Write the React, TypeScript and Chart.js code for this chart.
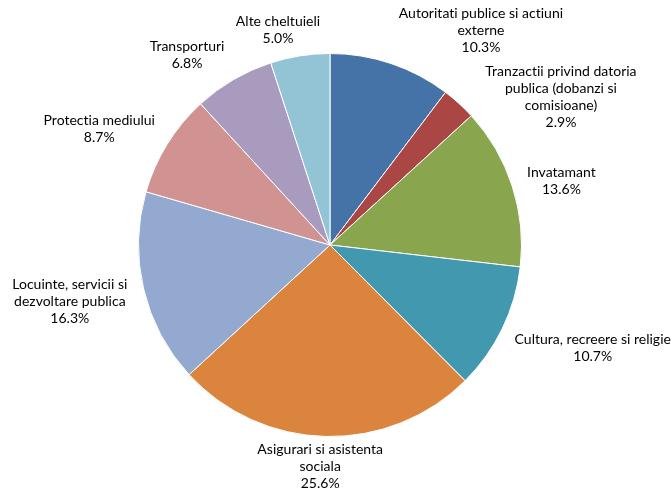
import React, { useEffect, useRef } from "react";
import { Chart, registerables } from "chart.js";

Chart.register(...registerables);

const categories: string[] = [
  "Autoritati publice si actiuni\nexterne",
  "Tranzactii privind datoria\npublica (dobanzi si\ncomisioane)",
  "Invatamant",
  "Cultura, recreere si religie",
  "Asigurari si asistenta\nsociala",
  "Locuinte, servicii si\ndezvoltare publica",
  "Protectia mediului",
  "Transporturi",
  "Alte cheltuieli",
];

const shares: number[] = [10.3, 2.9, 13.6, 10.7, 25.6, 16.3, 8.7, 6.8, 5.0];

const sliceColors: string[] = [
  "#4572A7",
  "#AA4643",
  "#89A54E",
  "#4198AF",
  "#DB843D",
  "#93A9CF",
  "#D19392",
  "#A99BBD",
  "#92C4D6",
];

// Excel-like "best fit" nudges of the outside labels (pixels)
const labelNudges: [number, number][] = [
  [61, 0],
  [45, 25],
  [8, 3],
  [12, 8],
  [-4, -4],
  [-9, 5],
  [-13, -1],
  [-23, -2],
  [-14, 0],
];

const FONT = "14px Lato";
const LINE_H = 17;
const GAP = 9;

const outsideLabels = {
  id: "outsideLabels",
  afterDatasetsDraw(chart: any) {
    const ctx = chart.ctx;
    const meta = chart.getDatasetMeta(0);
    ctx.save();
    ctx.font = FONT;
    try {
      (ctx as any).letterSpacing = "0.01px";
    } catch (e) {}
    ctx.fillStyle = "#000000";
    ctx.textAlign = "center";
    ctx.textBaseline = "middle";
    meta.data.forEach((arc: any, i: number) => {
      const p = arc.getProps(["x", "y", "startAngle", "endAngle", "outerRadius"], true);
      const mid = (p.startAngle + p.endAngle) / 2;
      const dx = Math.cos(mid);
      const dy = Math.sin(mid);
      const lines = categories[i].split("\n").concat([shares[i].toFixed(1) + "%"]);
      const w = Math.max(...lines.map((l) => ctx.measureText(l).width));
      const h = lines.length * LINE_H;
      const ax = p.x + (p.outerRadius + GAP) * dx;
      const ay = p.y + (p.outerRadius + GAP) * dy;
      const cx = ax + (dx * w) / 2 + labelNudges[i][0];
      const cy = ay + (dy * h) / 2 + labelNudges[i][1];
      const top = cy - h / 2;
      lines.forEach((l, k) => {
        ctx.fillText(l, cx, top + LINE_H * (k + 0.5));
      });
    });
    ctx.restore();
  },
};

export default function App() {
  const ref = useRef<HTMLCanvasElement | null>(null);
  useEffect(() => {
    if (!ref.current) return;
    const chart = new Chart(ref.current, {
      type: "pie",
      data: {
        labels: categories,
        datasets: [
          {
            data: shares,
            backgroundColor: sliceColors,
            borderColor: "#ffffff",
            borderWidth: 1,
          },
        ],
      },
      options: {
        responsive: false,
        animation: false,
        layout: { padding: { left: 137, right: 148, top: 53, bottom: 54 } },
        plugins: {
          legend: { display: false },
          tooltip: { enabled: false },
        },
      },
      plugins: [outsideLabels],
    });
    return () => chart.destroy();
  }, []);
  return (
    <div style={{ position: "fixed", left: 0, top: 0, width: 671, height: 491, background: "#fff" }}>
      <canvas ref={ref} width={671} height={491} />
    </div>
  );
}
